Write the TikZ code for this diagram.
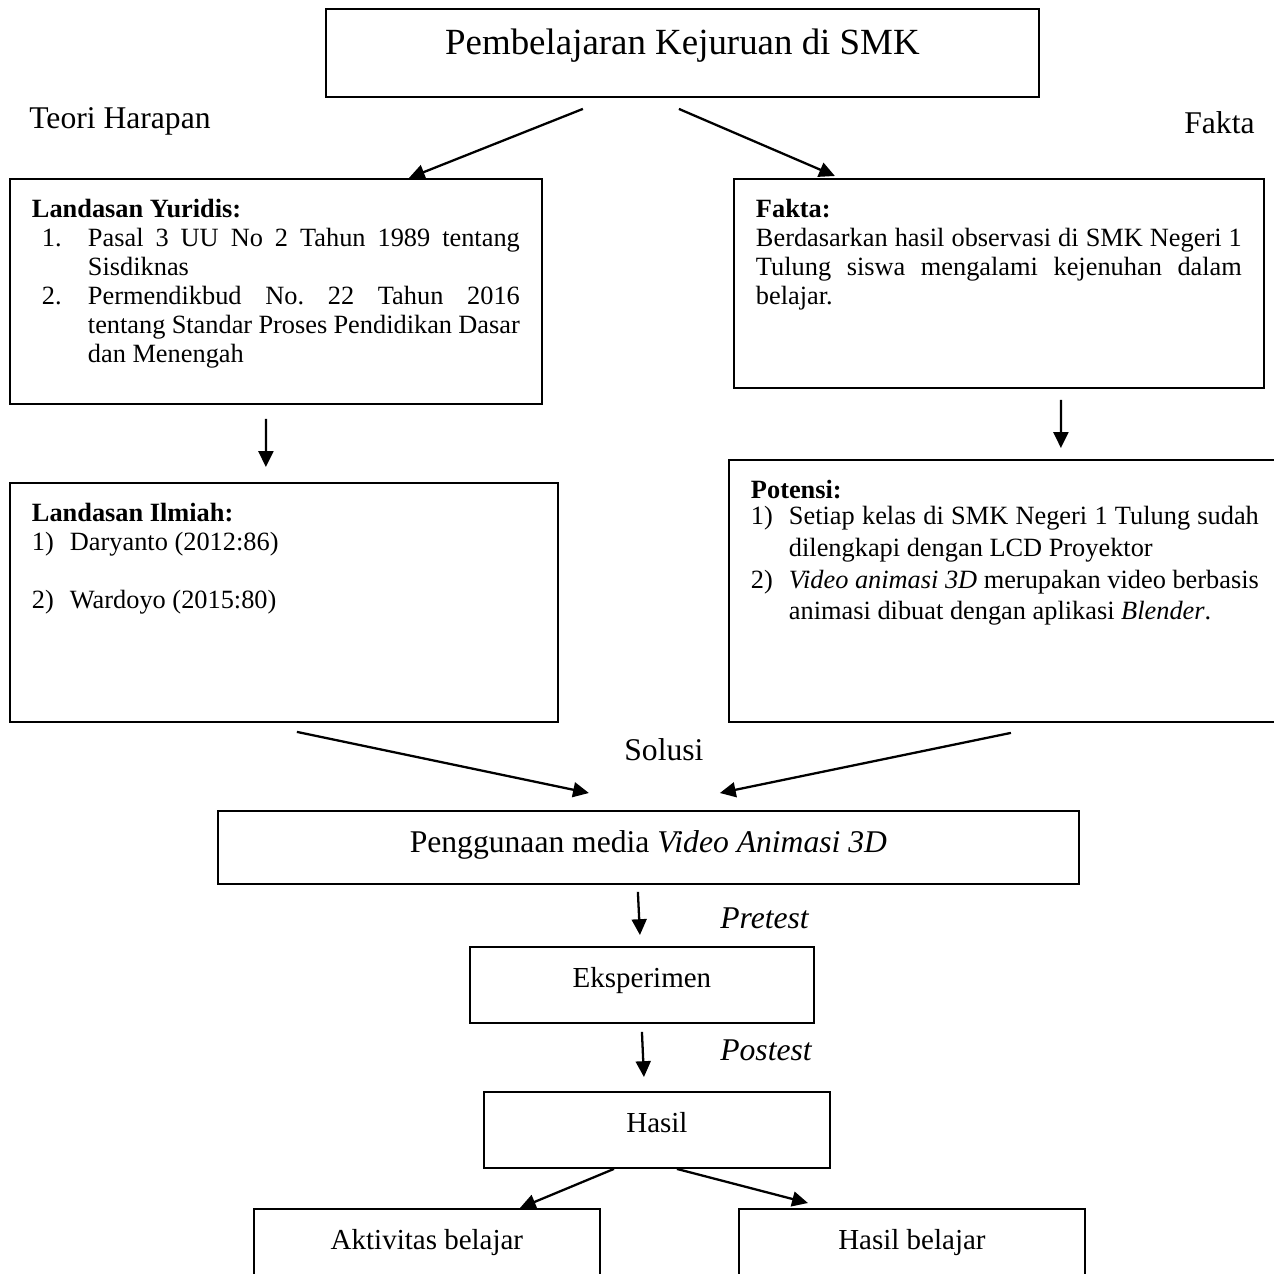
\documentclass[tikz,border=0pt]{standalone}
\usepackage{fontspec}
\setmainfont{Liberation Serif}
\usepackage{tikz}
\usetikzlibrary{shapes,arrows.meta,calc}
\tikzstyle{box} = [rectangle, draw, line width=1.1pt, anchor=north west,
    inner xsep=0.44cm, inner ysep=0.4cm]
\tikzstyle{sidetext} = [anchor=base west, inner sep=0pt,
    font=\fontsize{18}{21}\selectfont]
\tikzstyle{arrow} = [draw, -{Triangle[length=9pt,width=8.5pt]}, line width=1.3pt]
\newcommand{\inbox}[3]{\parbox[c][#2][t]{#1}{\frenchspacing\tolerance=9999\hbadness=10000\hyphenpenalty=10000 #3}}
\newcommand{\itm}[3]{\par\hangindent=#1\hangafter=1\noindent\makebox[#1][l]{#2}#3}

\begin{document}
\begin{tikzpicture}[x=0.02cm, y=-0.02cm, every node/.style={font=\fontsize{15}{16.5}\selectfont}]
	\useasboundingbox (0,0) rectangle (1274,1274);
	% Place nodes
	\node [box] (title) at (325,8) {\inbox{13.38cm}{0.96cm}{\centering\fontsize{21}{25}\selectfont Pembelajaran Kejuruan di SMK}};
	\node [box] (yuridis) at (9,178) {\inbox{9.76cm}{3.7cm}{{\bfseries Landasan Yuridis:}
		\itm{1.12cm}{\hspace{0.2cm}1.}{Pasal 3 UU No 2 Tahun 1989 tentang \linebreak Sisdiknas}
		\itm{1.12cm}{\hspace{0.2cm}2.}{Permendikbud No. 22 Tahun 2016 \linebreak tentang Standar Proses Pendidikan Dasar \linebreak dan Menengah}}};
	\node [box] (fakta) at (733,178) {\inbox{9.72cm}{3.38cm}{{\bfseries Fakta:}\par
		Berdasarkan hasil observasi di SMK Negeri 1 \linebreak Tulung siswa mengalami kejenuhan dalam \linebreak belajar.}};
	\node [box] (ilmiah) at (9,482) {\inbox{10.08cm}{3.98cm}{{\bfseries Landasan Ilmiah:}
		\itm{0.76cm}{1)}{Daryanto (2012:86)}
		\par\vspace{16.5pt}
		\itm{0.76cm}{2)}{Wardoyo (2015:80)}}};
	\node [box] (potensi) at (728,459) {\inbox{10.16cm}{4.44cm}{{\bfseries Potensi:}\par\vspace{-0.1cm}
		\fontsize{15}{18}\selectfont
		\itm{0.76cm}{1)}{Setiap kelas di SMK Negeri 1 Tulung sudah \linebreak dilengkapi dengan LCD Proyektor}
		\itm{0.76cm}{2)}{\textit{Video animasi 3D} merupakan video berbasis \linebreak animasi dibuat dengan aplikasi \textit{Blender}.}}};
	\node [box] (media) at (217,810) {\inbox{16.34cm}{0.66cm}{\centering\fontsize{18}{21}\selectfont Penggunaan media \textit{Video Animasi 3D}}};
	\node [box] (eksperimen) at (469,946) {\inbox{6cm}{0.72cm}{\centering\fontsize{16.5}{19}\selectfont Eksperimen}};
	\node [box] (hasil) at (483,1091) {\inbox{6.04cm}{0.72cm}{\centering\fontsize{16.5}{19}\selectfont Hasil}};
	\node [box] (aktivitas) at (253,1208) {\inbox{6.04cm}{0.8cm}{\centering\fontsize{16.5}{19}\selectfont Aktivitas belajar}};
	\node [box] (hasilbelajar) at (738,1208) {\inbox{6.04cm}{0.8cm}{\centering\fontsize{16.5}{19}\selectfont Hasil belajar}};
	%
	\node [sidetext] (teori) at (29,129) {Teori Harapan};
	\node [sidetext] (faktalbl) at (1184,133) {Fakta};
	\node [sidetext] (solusi) at (624,760) {Solusi};
	\node [sidetext] (pretest) at (720,928) {\textit{Pretest}};
	\node [sidetext] (postest) at (720,1060) {\textit{Postest}};
	%
	\path [arrow] ($(title.south)+(-99.5,11)$) -- ($(yuridis.north)+(133,0)$);
	\path [arrow] ($(title.south)+(-3.5,11)$) -- ($(fakta.north)+(-164,-2)$);
	\path [arrow] ($(yuridis.south)+(-10,14)$) -- ($(ilmiah.north)+(-18,-15)$);
	\path [arrow] ($(fakta.south)+(62,11)$) -- ($(potensi.north)+(56,-11)$);
	\path [arrow] ($(ilmiah.south)+(13,9)$) -- ($(media.north)+(-59.5,-17)$);
	\path [arrow] ($(potensi.south)+(6,10)$) -- ($(media.north)+(71.5,-17)$);
	\path [arrow] ($(media.south)+(-10.5,7)$) -- ($(eksperimen.north)+(-2,-11)$);
	\path [arrow] ($(eksperimen.south)+(0,8)$) -- ($(hasil.north)+(-13,-14)$);
	\path [arrow] ($(hasil.south)+(-43,0)$) -- ($(aktivitas.north)+(93,0)$);
	\path [arrow] ($(hasil.south)+(20,0)$) -- ($(hasilbelajar.north)+(-104,-5)$);
\end{tikzpicture}
\end{document}
